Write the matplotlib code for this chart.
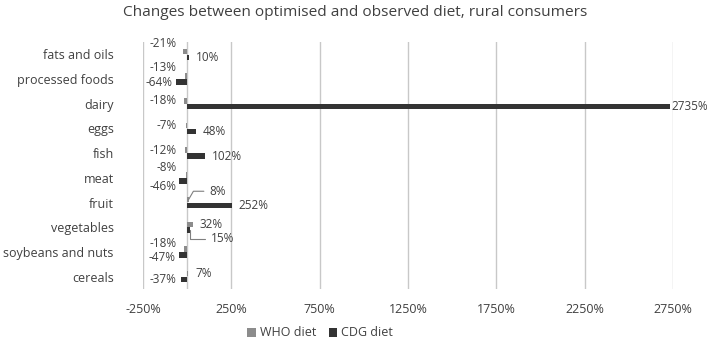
import numpy as np
import matplotlib.pyplot as plt
from matplotlib.ticker import FuncFormatter

plt.rcParams['font.family'] = ['Open Sans', 'DejaVu Sans']

categories = ["fats and oils", "processed foods", "dairy", "eggs", "fish", "meat",
              "fruit", "vegetables", "soybeans and nuts", "cereals"]
who_diet = [-21, -13, -18, -7, -12, -8, 8, 32, -18, 7]
cdg_diet = [10, -64, 2735, 48, 102, -46, 252, 15, -47, -37]
x_ticks = [-250, 250, 750, 1250, 1750, 2250, 2750]

who_col = "#8c8c8c"
cdg_col = "#333333"
txt_col = "#404040"

fig = plt.figure(figsize=(7.09, 3.46), dpi=100)
ax = fig.add_axes([143 / 709, 1 - 289 / 346, 530 / 709, 247 / 346])

y = np.arange(len(categories))
h = 0.22
ax.barh(y - 0.12, who_diet, height=h, color=who_col, label="WHO diet", zorder=3)
ax.barh(y + 0.12, cdg_diet, height=h, color=cdg_col, label="CDG diet", zorder=3)

ax.set_ylim(len(categories) - 0.5, -0.5)
ax.set_xlim(-250, 2750)
ax.set_xticks(x_ticks)
ax.xaxis.set_major_formatter(FuncFormatter(lambda v, p: f"{v:.0f}%"))
ax.set_yticks(y)
ax.set_yticklabels(categories)
ax.tick_params(axis="both", length=0, labelsize=9, colors=txt_col)
ax.tick_params(axis="x", pad=10)
ax.tick_params(axis="y", pad=21)
ax.grid(axis="x", color="#c8c8c8", linewidth=1, zorder=0)
ax.axvline(0, color="#c8c8c8", linewidth=1, zorder=1)
for s in ax.spines.values():
    s.set_visible(False)

# label nudges (points, +y = up) for the crowded ones; third item = leader style
nudge_who = {0: (0, 6), 1: (0, 6), 5: (0, 5), 6: (10, 6, "angle,angleA=0,angleB=60"), 8: (0, 4)}
nudge_cdg = {5: (0, -4), 7: (10, -6, "angle,angleA=0,angleB=90"), 8: (0, -2)}


def put_labels(vals, yy, nudges):
    for i, v in enumerate(vals):
        nd = nudges.get(i, (0, 0))
        dx, dy = nd[0], nd[1]
        if v < 0:
            xt = min(v - 17, -60)
            ax.annotate(f"{v}%", xy=(xt, yy[i]), xytext=(dx, dy),
                        textcoords="offset points", ha="right", va="center",
                        fontsize=8.5, color=txt_col)
        else:
            off = 1 if v > 2000 else 5
            arrow = None
            if len(nd) > 2:
                arrow = dict(arrowstyle="-", color="#7f7f7f", lw=0.8,
                             shrinkA=2, shrinkB=0, connectionstyle=nd[2])
            ax.annotate(f"{v}%", xy=(v, yy[i]), xytext=(off + dx, dy),
                        textcoords="offset points", ha="left", va="center",
                        fontsize=8.5, color=txt_col, arrowprops=arrow)


put_labels(who_diet, y - 0.12, nudge_who)
put_labels(cdg_diet, y + 0.12, nudge_cdg)

fig.suptitle("Changes between optimised and observed diet, rural consumers",
             x=355 / 709, y=1 - 13 / 346, va="center", fontsize=11.1, color=txt_col)
fig.legend(loc="center", bbox_to_anchor=(320 / 709, 1 - 333 / 346), ncol=2,
           frameon=False, fontsize=9, handlelength=0.7, handleheight=0.7,
           handletextpad=0.3, columnspacing=1.0, labelcolor=txt_col)

plt.savefig("out.png", dpi=100)
